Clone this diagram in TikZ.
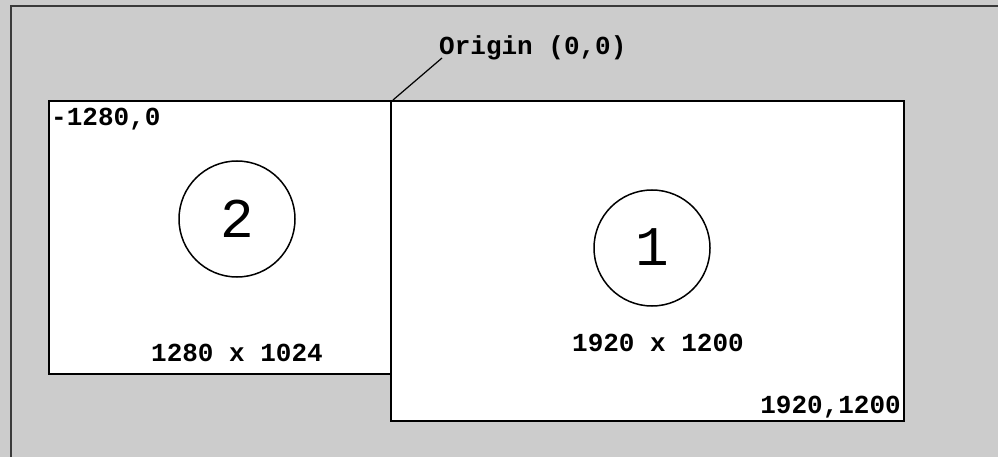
\documentclass[tikz,border=0pt]{standalone}
\usepackage{fontspec}
\setmonofont{Liberation Mono}
\definecolor{bggray}{HTML}{CCCCCC}
\definecolor{framecol}{HTML}{3A3A3A}
\begin{document}
\begin{tikzpicture}[x=1pt,y=-1pt,
  screen/.style={draw=black, fill=white, line width=1.6pt, rectangle, inner sep=0pt, anchor=north west},
  monitor/.style={draw=black, line width=1.5pt, circle, inner sep=0pt, minimum size=116pt,
    font=\fontsize{56}{56}\selectfont\ttfamily},
  lbl/.style={font=\fontsize{26}{26}\selectfont\ttfamily\bfseries, inner sep=0pt}]
\useasboundingbox (0,0) rectangle (998,457);
\fill[bggray] (0,0) rectangle (998,457);
\draw[framecol, line width=2.5pt] (11,457) -- (11,6) -- (998,6);
\node[screen, minimum width=342pt, minimum height=273pt] (s2) at (48,100) {};
\node[screen, minimum width=513pt, minimum height=320pt] (s1) at (390,100) {};
\node[monitor] (c2) at (237,219) {};
\node[monitor] (c1) at (652,248) {};
\node[font=\fontsize{56}{56}\selectfont\ttfamily, inner sep=0pt, anchor=base] (d2) at (237,237) {2};
\node[font=\fontsize{56}{56}\selectfont\ttfamily, inner sep=0pt, anchor=base] (d1) at (652,265) {1};
\node[lbl, anchor=base west] (p2) at (51,126) {-1280,0};
\node[lbl, anchor=base] (r2) at (237,361) {1280 x 1024};
\node[lbl, anchor=base] (r1) at (658,351) {1920 x 1200};
\node[lbl, anchor=base east] (p1) at (901,413) {1920,1200};
\node[lbl, anchor=base west] (orig) at (439,55) {Origin (0,0)};
\coordinate (lead) at (442,58);
\draw[black, line width=1.2pt] (s1.north west) ++(3,0) -- (lead);
\end{tikzpicture}
\end{document}
